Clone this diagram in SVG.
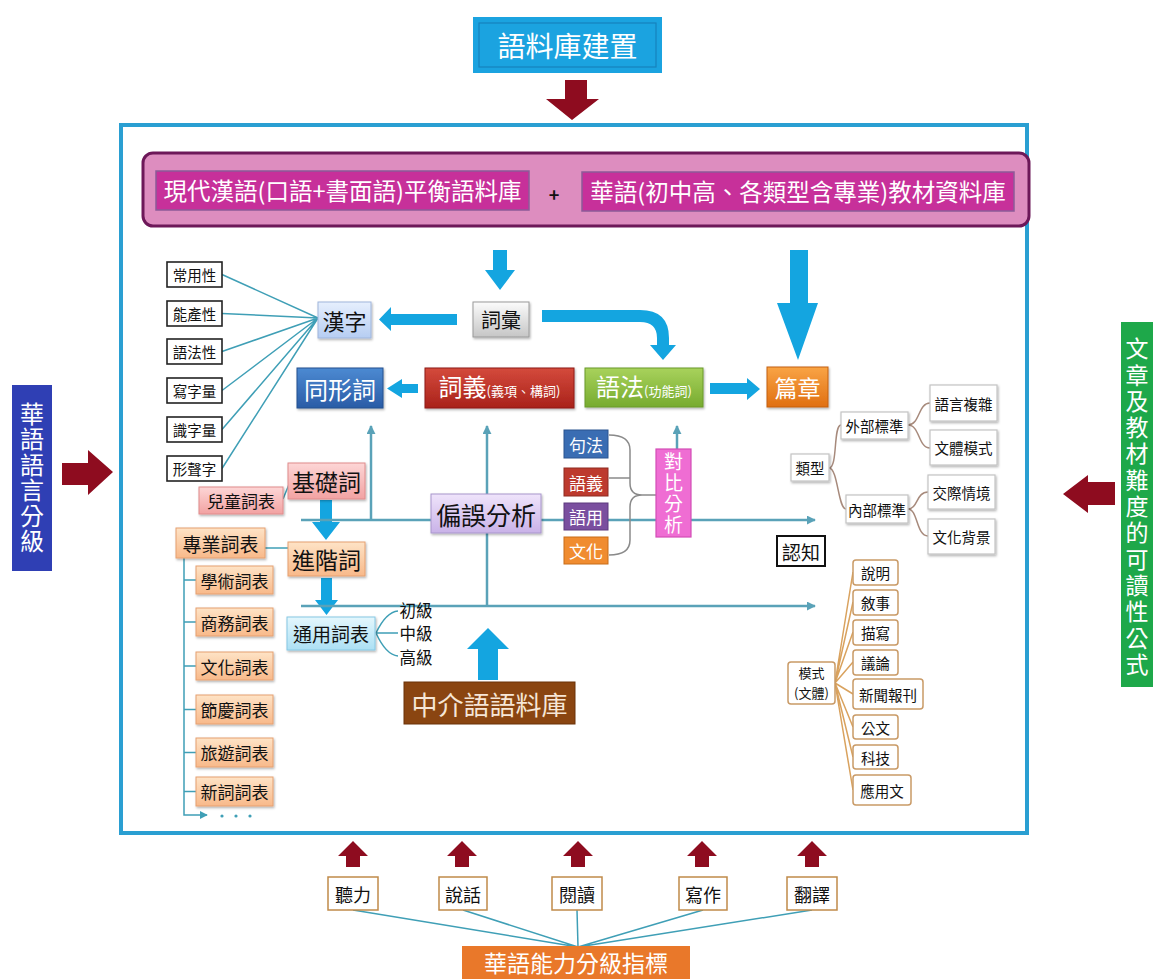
<svg xmlns="http://www.w3.org/2000/svg" width="1153" height="979" viewBox="0 0 1153 979">
<defs>
<style>
text{font-family:"Noto Sans CJK TC","Noto Sans CJK SC","Noto Sans CJK JP",sans-serif;}
.c{text-anchor:middle;dominant-baseline:central;}
.v{writing-mode:vertical-rl;text-anchor:middle;}
.w{fill:#ffffff;}
.k{fill:#111111;}
.crit{fill:#ffffff;stroke:#222222;stroke-width:1.6;}
.tree{fill:#ffffff;stroke:#c4c4c4;stroke-width:1.2;}
.mode{fill:#ffffff;stroke:#c99a66;stroke-width:1.5;}
.skill{fill:#ffffff;stroke:#c08a4a;stroke-width:1.5;}
.teal{fill:none;stroke:#3f9fb6;stroke-width:1.5;}
.axis{fill:none;stroke:#5aa2b8;stroke-width:2.5;}
.brown{fill:none;stroke:#a78a7c;stroke-width:1.5;}
.orl{fill:none;stroke:#d9a25e;stroke-width:1.5;}
.blue{fill:#14a5e0;}
.dred{fill:#8e0c1f;}
</style>
<linearGradient id="gGray" x1="0" y1="0" x2="0" y2="1"><stop offset="0" stop-color="#fbfbfb"/><stop offset="1" stop-color="#c6c6c6"/></linearGradient>
<linearGradient id="gLB" x1="0" y1="0" x2="0" y2="1"><stop offset="0" stop-color="#e6effd"/><stop offset="1" stop-color="#b6cdf2"/></linearGradient>
<linearGradient id="gBlue" x1="0" y1="0" x2="0" y2="1"><stop offset="0" stop-color="#4c8ad2"/><stop offset="1" stop-color="#2a5ca6"/></linearGradient>
<linearGradient id="gRed" x1="0" y1="0" x2="0" y2="1"><stop offset="0" stop-color="#d44a3c"/><stop offset="1" stop-color="#a9221b"/></linearGradient>
<linearGradient id="gGreen" x1="0" y1="0" x2="0" y2="1"><stop offset="0" stop-color="#a8d25c"/><stop offset="1" stop-color="#77ab2f"/></linearGradient>
<linearGradient id="gOr" x1="0" y1="0" x2="0" y2="1"><stop offset="0" stop-color="#f9a445"/><stop offset="1" stop-color="#e06f12"/></linearGradient>
<linearGradient id="gPink" x1="0" y1="0" x2="0" y2="1"><stop offset="0" stop-color="#fdd6d6"/><stop offset="1" stop-color="#f2a2a2"/></linearGradient>
<linearGradient id="gPeach" x1="0" y1="0" x2="0" y2="1"><stop offset="0" stop-color="#fee3c6"/><stop offset="1" stop-color="#f8b98a"/></linearGradient>
<linearGradient id="gCyan" x1="0" y1="0" x2="0" y2="1"><stop offset="0" stop-color="#e4f7fd"/><stop offset="1" stop-color="#ace0f4"/></linearGradient>
<linearGradient id="gLav" x1="0" y1="0" x2="0" y2="1"><stop offset="0" stop-color="#efe4fb"/><stop offset="1" stop-color="#c9b2e8"/></linearGradient>
<filter id="sh" x="-10%" y="-10%" width="130%" height="140%"><feDropShadow dx="1" dy="1.5" stdDeviation="1" flood-color="#000" flood-opacity="0.3"/></filter>
<marker id="ah" viewBox="0 0 10 10" refX="9" refY="5" markerWidth="9" markerHeight="9" markerUnits="userSpaceOnUse" orient="auto"><path d="M0,0 L10,5 L0,10 Z" fill="#5aa2b8"/></marker>
<marker id="ahs" viewBox="0 0 10 10" refX="9" refY="5" markerWidth="8" markerHeight="8" markerUnits="userSpaceOnUse" orient="auto"><path d="M0,0 L10,5 L0,10 Z" fill="#3f9fb6"/></marker>
</defs>

<rect width="1153" height="979" fill="#ffffff"/>

<!-- main frame -->
<rect id="frame" x="121" y="125" width="906" height="708" fill="#ffffff" stroke="#2a9fd2" stroke-width="4"/>

<g id="connectors">
  <!-- big arrows -->
  <path class="dred" d="M565,80 H587 V99 H599 L572,120 L546,99 H565 Z"/>
  <path class="dred" d="M62,463 H88 V450 L113,472 L88,495 V485 H62 Z"/>
  <path class="dred" d="M1115,482 H1088 V475 L1063,494 L1088,513 V505 H1115 Z"/>
  <path class="dred" d="M346,867 V856 H338 L353,841 L368,856 H360 V867 Z"/>
  <path class="dred" d="M455,867 V856 H447 L462,841 L477,856 H469 V867 Z"/>
  <path class="dred" d="M571,867 V856 H563 L578,841 L593,856 H585 V867 Z"/>
  <path class="dred" d="M695,867 V856 H687 L702,841 L717,856 H709 V867 Z"/>
  <path class="dred" d="M805,867 V856 H797 L812,841 L827,856 H819 V867 Z"/>

  <!-- blue arrows -->
  <path class="blue" d="M493,250 H507 V270 H515 L500,290 L485,270 H493 Z"/>
  <path class="blue" d="M790,250 H808 V303 H818 L798,360 L777,303 H790 Z"/>
  <path class="blue" d="M457,314 V325 H391 V331 L379,319.5 L391,307 V314 Z"/>
  <path class="blue" d="M542,310 H640 Q669,310 669,338 V345 H676 L663,360 L650,345 H657 V338 Q657,322 640,322 H542 Z"/>
  <path class="blue" d="M418,384 V393 H402 V398 L387,388.5 L402,379 V384 Z"/>
  <path class="blue" d="M710,383 H747 V378 L760,389 L747,400 V394 H710 Z"/>
  <path class="blue" d="M320,500 H332 V522 H340 L326,540 L312,522 H320 Z"/>
  <path class="blue" d="M321,578 H332 V600 H338 L326.5,615 L315,600 H321 Z"/>
  <path class="blue" d="M478,680 V649 H467 L488,628 L509,649 H498 V680 Z"/>

  <!-- criteria lines to 漢字 -->
  <path class="teal" d="M222,274.5 L318,318 M222,313.5 L318,318 M222,351.5 L318,318 M222,390.5 L318,318 M222,429.5 L318,318 M222,468.5 L318,318"/>

  <!-- axes -->
  <path class="axis" d="M301,520 H815" marker-end="url(#ah)"/>
  <path class="axis" d="M301,606 H815" marker-end="url(#ah)"/>
  <path class="axis" stroke-width="2" d="M371,520 V426" marker-end="url(#ah)"/>
  <path class="axis" stroke-width="2" d="M487,606 V426" marker-end="url(#ah)"/>
  <path class="axis" stroke-width="2" d="M677,449 V426" marker-end="url(#ah)"/>

  <!-- brace -->
  <path fill="none" stroke="#8a8a8a" stroke-width="1.5" d="M609,435 Q630,435 630,450 V483 Q630,495 642,495 H656 M642,495 Q630,495 630,507 V540 Q630,555 609,555 M609,478 H630"/>

  <!-- word list lines -->
  <path class="teal" d="M283,499 L290,482"/>
  <path class="teal" d="M265,548 H288"/>
  <path class="teal" d="M184,558 V815 H207" marker-end="url(#ahs)"/>
  <path class="teal" d="M184,580 H196 M184,622 H196 M184,666 H196 M184,709.5 H196 M184,752.5 H196 M184,791.5 H196"/>
  <circle cx="222" cy="816" r="1.6" fill="#3f9fb6"/>
  <circle cx="236" cy="816" r="1.6" fill="#3f9fb6"/>
  <circle cx="250" cy="816" r="1.6" fill="#3f9fb6"/>
  <path class="teal" d="M376,633 Q386,612 398,611 M376,633 H398 M376,633 Q386,655 398,656"/>

  <!-- right tree -->
  <path class="brown" d="M829,468 C838,468 833,425 841,425 M829,468 C838,468 838,509 846,509 M908,425 C920,425 918,403 930,403 M908,425 C920,425 918,448 930,448 M908,509 C918,509 916,492 928,492 M908,509 C918,509 916,536 928,536"/>

  <!-- mode lines -->
  <path class="orl" d="M835,683 L853,572 M835,683 L853,602 M835,683 L853,632 M835,683 L853,662 M835,683 L853,694 M835,683 L853,727 M835,683 L853,757 M835,683 L853,790"/>

  <!-- skills to indicator -->
  <path class="teal" stroke-width="2" d="M353,910 L578,947 M463,910 L578,947 M577,910 L578,947 M703,910 L578,947 M812,910 L578,947"/>
</g>

<g id="n-corpus-build">
  <rect x="473" y="17" width="189" height="56" fill="#1ba3e0"/>
  <rect x="479" y="23" width="177" height="44" fill="none" stroke="#1782bd" stroke-width="1.2"/>
  <text class="c w" x="567.5" y="45" font-size="28">語料庫建置</text>
</g>

<g id="n-pink-bar">
  <rect x="143" y="153" width="886" height="73" rx="10" fill="#dd8dbf" stroke="#6d1859" stroke-width="3"/>
  <rect x="156" y="171" width="373" height="39" fill="#c7309a" stroke="#8c5a98" stroke-width="1.5"/>
  <text class="c w" x="342.5" y="190" font-size="23.5">現代漢語(口語+書面語)平衡語料庫</text>
  <text class="c k" x="554" y="194" font-size="18" font-weight="bold">+</text>
  <rect x="582" y="172" width="432" height="39" fill="#c7309a" stroke="#8c5a98" stroke-width="1.5"/>
  <text class="c w" x="798" y="191" font-size="23.5">華語(初中高、各類型含專業)教材資料庫</text>
</g>

<g id="n-left-level">
  <rect x="12" y="385" width="40" height="186" fill="#2f3fb4"/>
  <text class="v w" x="32" y="478" font-size="24" letter-spacing="1.5">華語語言分級</text>
</g>

<g id="n-right-formula">
  <rect x="1121" y="322" width="34" height="365" fill="#1ea84a"/>
  <text class="v w" x="1137" y="508" font-size="23" letter-spacing="3.3">文章及教材難度的可讀性公式</text>
</g>

<g id="n-criteria">
  <rect class="crit" x="167" y="262" width="55" height="25"/><text class="c k" x="194.5" y="274.5" font-size="14.5">常用性</text>
  <rect class="crit" x="167" y="301" width="55" height="25"/><text class="c k" x="194.5" y="313.5" font-size="14.5">能產性</text>
  <rect class="crit" x="167" y="339" width="55" height="25"/><text class="c k" x="194.5" y="351.5" font-size="14.5">語法性</text>
  <rect class="crit" x="167" y="378" width="55" height="25"/><text class="c k" x="194.5" y="390.5" font-size="14.5">寫字量</text>
  <rect class="crit" x="167" y="417" width="55" height="25"/><text class="c k" x="194.5" y="429.5" font-size="14.5">識字量</text>
  <rect class="crit" x="167" y="456" width="55" height="25"/><text class="c k" x="194.5" y="468.5" font-size="14.5">形聲字</text>
</g>

<g id="n-hanzi">
  <rect x="318" y="302" width="53" height="36" fill="url(#gLB)" stroke="#9fb6dc" stroke-width="1" filter="url(#sh)"/>
  <text class="c k" x="344.5" y="320" font-size="22">漢字</text>
</g>

<g id="n-cihui">
  <rect x="473" y="302" width="56" height="35" fill="url(#gGray)" stroke="#9a9a9a" stroke-width="1" filter="url(#sh)"/>
  <text class="c k" x="501" y="319.5" font-size="20">詞彙</text>
</g>

<g id="n-tongxingci">
  <rect x="297" y="368" width="86" height="40" fill="url(#gBlue)" stroke="#24508f" stroke-width="1" filter="url(#sh)"/>
  <text class="c w" x="340" y="388" font-size="24">同形詞</text>
</g>

<g id="n-ciyi">
  <rect x="425" y="368" width="149" height="40" fill="url(#gRed)" stroke="#8e1c16" stroke-width="1" filter="url(#sh)"/>
  <text class="w" x="499.5" y="396" text-anchor="middle"><tspan font-size="24">詞義</tspan><tspan font-size="13">(義項、構詞)</tspan></text>
</g>

<g id="n-yufa">
  <rect x="585" y="368" width="118" height="39" fill="url(#gGreen)" stroke="#6a9a2a" stroke-width="1" filter="url(#sh)"/>
  <text class="w" x="644" y="396" text-anchor="middle"><tspan font-size="24">語法</tspan><tspan font-size="13">(功能詞)</tspan></text>
</g>

<g id="n-pianzhang">
  <rect x="767" y="367" width="61" height="40" fill="url(#gOr)" stroke="#c4600e" stroke-width="1" filter="url(#sh)"/>
  <text class="c w" x="797.5" y="387" font-size="23">篇章</text>
</g>

<g id="n-contrast-items">
  <rect x="564" y="430" width="44" height="28" fill="#3a6db3" stroke="#2a5590" stroke-width="1"/><text class="c w" x="586" y="444" font-size="17">句法</text>
  <rect x="564" y="468" width="44" height="28" fill="#bd3a2e" stroke="#8e2a20" stroke-width="1"/><text class="c w" x="586" y="482" font-size="17">語義</text>
  <rect x="564" y="503" width="44" height="27" fill="#7a4f9f" stroke="#5d3a7e" stroke-width="1"/><text class="c w" x="586" y="516.5" font-size="17">語用</text>
  <rect x="564" y="537" width="44" height="27" fill="#f08c30" stroke="#c86c18" stroke-width="1"/><text class="c w" x="586" y="550.5" font-size="17">文化</text>
</g>

<g id="n-duibi">
  <rect x="656" y="449" width="35" height="88" fill="#ef6dd3" stroke="#d24eb6" stroke-width="1.2"/>
  <text class="v w" x="673.5" y="494" font-size="19" letter-spacing="2">對比分析</text>
</g>

<g id="n-piandu">
  <rect x="431" y="494" width="110" height="39" fill="url(#gLav)" stroke="#a896cc" stroke-width="1" filter="url(#sh)"/>
  <text class="c k" x="486" y="513.5" font-size="25">偏誤分析</text>
</g>

<g id="n-jichuci">
  <rect x="288" y="463" width="77" height="36" fill="url(#gPink)" stroke="#e08c8c" stroke-width="1" filter="url(#sh)"/>
  <text class="c k" x="326.5" y="481" font-size="23">基礎詞</text>
</g>

<g id="n-ertong">
  <rect x="199" y="487" width="84" height="27" fill="url(#gPink)" stroke="#e08c8c" stroke-width="1" filter="url(#sh)"/>
  <text class="c k" x="241" y="500.5" font-size="17">兒童詞表</text>
</g>

<g id="n-jinjieci">
  <rect x="288" y="542" width="77" height="34" fill="url(#gPeach)" stroke="#e6a070" stroke-width="1" filter="url(#sh)"/>
  <text class="c k" x="326.5" y="559" font-size="23">進階詞</text>
</g>

<g id="n-tongyong">
  <rect x="287" y="617" width="88" height="33" fill="url(#gCyan)" stroke="#86c8e4" stroke-width="1" filter="url(#sh)"/>
  <text class="c k" x="331" y="633.5" font-size="19">通用詞表</text>
  <text class="c k" x="416" y="610" font-size="16.5">初級</text>
  <text class="c k" x="416" y="633" font-size="16.5">中級</text>
  <text class="c k" x="416" y="657" font-size="16.5">高級</text>
</g>

<g id="n-zhuanye">
  <rect x="176" y="528" width="89" height="30" fill="url(#gPeach)" stroke="#e6a070" stroke-width="1" filter="url(#sh)"/>
  <text class="c k" x="220.5" y="543" font-size="19">專業詞表</text>
</g>

<g id="n-sublists">
  <rect x="196" y="566" width="77" height="28" fill="url(#gPeach)" stroke="#e6a070" stroke-width="1" filter="url(#sh)"/><text class="c k" x="234.5" y="580" font-size="17">學術詞表</text>
  <rect x="196" y="608" width="77" height="28" fill="url(#gPeach)" stroke="#e6a070" stroke-width="1" filter="url(#sh)"/><text class="c k" x="234.5" y="622" font-size="17">商務詞表</text>
  <rect x="196" y="652" width="77" height="28" fill="url(#gPeach)" stroke="#e6a070" stroke-width="1" filter="url(#sh)"/><text class="c k" x="234.5" y="666" font-size="17">文化詞表</text>
  <rect x="196" y="695" width="77" height="29" fill="url(#gPeach)" stroke="#e6a070" stroke-width="1" filter="url(#sh)"/><text class="c k" x="234.5" y="709.5" font-size="17">節慶詞表</text>
  <rect x="196" y="738" width="77" height="29" fill="url(#gPeach)" stroke="#e6a070" stroke-width="1" filter="url(#sh)"/><text class="c k" x="234.5" y="752.5" font-size="17">旅遊詞表</text>
  <rect x="196" y="777" width="77" height="29" fill="url(#gPeach)" stroke="#e6a070" stroke-width="1" filter="url(#sh)"/><text class="c k" x="234.5" y="791.5" font-size="17">新詞詞表</text>
</g>

<g id="n-interlanguage">
  <rect x="404" y="682" width="171" height="42" fill="#8a4511" stroke="#6a3208" stroke-width="1"/>
  <text class="c" x="489.5" y="703" font-size="26" fill="#f6e6d6">中介語語料庫</text>
</g>

<g id="n-type-tree">
  <rect class="tree" x="791" y="454" width="38" height="27" filter="url(#sh)"/><text class="c k" x="810" y="467.5" font-size="14.5">類型</text>
  <rect class="tree" x="841" y="412" width="67" height="27" filter="url(#sh)"/><text class="c k" x="874.5" y="425.5" font-size="14.5">外部標準</text>
  <rect class="tree" x="846" y="495" width="62" height="28" filter="url(#sh)"/><text class="c k" x="877" y="509" font-size="14.5">內部標準</text>
  <rect class="tree" x="930" y="385" width="67" height="36" filter="url(#sh)"/><text class="c k" x="963.5" y="403" font-size="14.5">語言複雜</text>
  <rect class="tree" x="930" y="430" width="67" height="35" filter="url(#sh)"/><text class="c k" x="963.5" y="447.5" font-size="14.5">文體模式</text>
  <rect class="tree" x="928" y="475" width="67" height="34" filter="url(#sh)"/><text class="c k" x="961.5" y="492" font-size="14.5">交際情境</text>
  <rect class="tree" x="928" y="519" width="67" height="35" filter="url(#sh)"/><text class="c k" x="961.5" y="536.5" font-size="14.5">文化背景</text>
</g>

<g id="n-renzhi">
  <rect x="777" y="536" width="48" height="30" fill="#ffffff" stroke="#111111" stroke-width="2"/>
  <text class="c k" x="801" y="551" font-size="19">認知</text>
</g>

<g id="n-mode">
  <rect class="mode" x="788" y="662" width="47" height="42" rx="3"/>
  <text class="k" text-anchor="middle" font-size="13"><tspan x="811.5" y="678">模式</tspan><tspan x="811.5" y="698">(文體)</tspan></text>
  <rect class="mode" x="853" y="560" width="45" height="25" rx="3"/><text class="c k" x="875.5" y="572.5" font-size="14.5">說明</text>
  <rect class="mode" x="853" y="590" width="45" height="25" rx="3"/><text class="c k" x="875.5" y="602.5" font-size="14.5">敘事</text>
  <rect class="mode" x="853" y="620" width="45" height="25" rx="3"/><text class="c k" x="875.5" y="632.5" font-size="14.5">描寫</text>
  <rect class="mode" x="853" y="650" width="45" height="25" rx="3"/><text class="c k" x="875.5" y="662.5" font-size="14.5">議論</text>
  <rect class="mode" x="853" y="679" width="70" height="30" rx="3"/><text class="c k" x="888" y="694" font-size="14.5">新聞報刊</text>
  <rect class="mode" x="853" y="715" width="45" height="24" rx="3"/><text class="c k" x="875.5" y="727" font-size="14.5">公文</text>
  <rect class="mode" x="853" y="745" width="45" height="24" rx="3"/><text class="c k" x="875.5" y="757" font-size="14.5">科技</text>
  <rect class="mode" x="853" y="775" width="58" height="30" rx="3"/><text class="c k" x="882" y="790" font-size="14.5">應用文</text>
</g>

<g id="n-skills">
  <rect class="skill" x="328" y="877" width="50" height="33"/><text class="c k" x="353" y="893.5" font-size="18">聽力</text>
  <rect class="skill" x="439" y="877" width="48" height="33"/><text class="c k" x="463" y="893.5" font-size="18">說話</text>
  <rect class="skill" x="552" y="877" width="50" height="33"/><text class="c k" x="577" y="893.5" font-size="18">閱讀</text>
  <rect class="skill" x="679" y="877" width="48" height="33"/><text class="c k" x="703" y="893.5" font-size="18">寫作</text>
  <rect class="skill" x="787" y="877" width="50" height="33"/><text class="c k" x="812" y="893.5" font-size="18">翻譯</text>
</g>

<g id="n-indicator">
  <rect x="462" y="946" width="228" height="40" fill="#e9782a"/>
  <text class="c w" x="576" y="962" font-size="23">華語能力分級指標</text>
</g>
</svg>
